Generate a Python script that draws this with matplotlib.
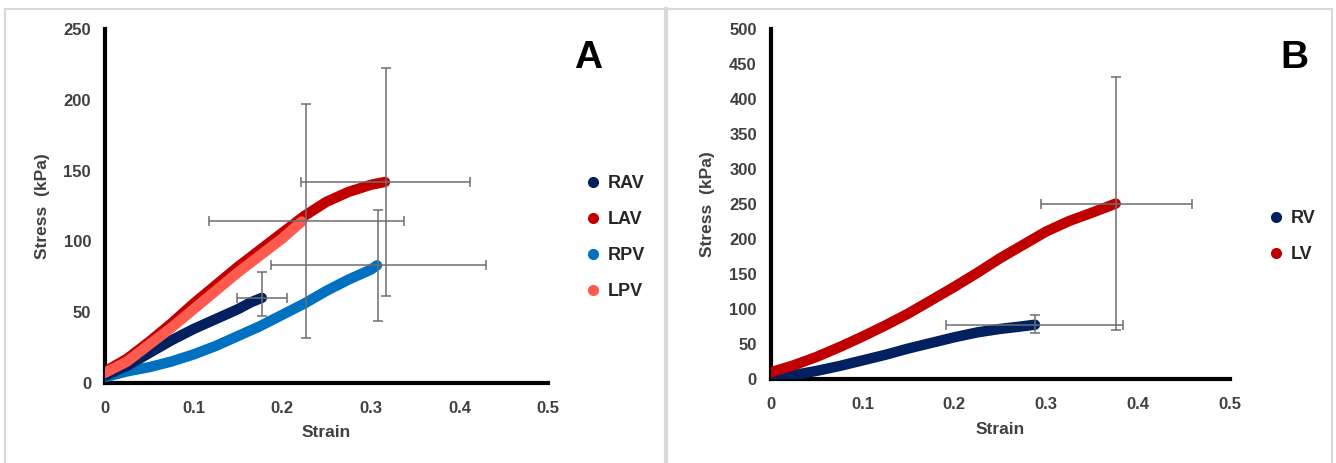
import matplotlib
matplotlib.use("Agg")
import matplotlib.pyplot as plt
from matplotlib.lines import Line2D
from matplotlib.ticker import FuncFormatter

plt.rcParams['font.family'] = ['Liberation Sans', 'DejaVu Sans']
plt.rcParams['font.weight'] = 'bold'

W, H = 1336, 463

# panel A : atria / pulmonary veins
rav_strain = [0, 0.025, 0.05, 0.075, 0.1, 0.125, 0.15, 0.165, 0.177]
rav_stress = [5, 12, 21, 30, 38, 45, 52, 57, 60]
lav_strain = [0, 0.025, 0.05, 0.075, 0.1, 0.125, 0.15, 0.175, 0.2, 0.225, 0.25, 0.275, 0.3, 0.316]
lav_stress = [8, 17, 29, 42, 56, 69, 82, 94, 106, 118, 128, 135, 140, 142]
rpv_strain = [0, 0.025, 0.05, 0.075, 0.1, 0.125, 0.15, 0.175, 0.2, 0.225, 0.25, 0.275, 0.3, 0.307]
rpv_stress = [4, 8, 11, 15, 20, 26, 33, 40, 48, 56, 65, 73, 80, 83]
lpv_strain = [0, 0.025, 0.05, 0.075, 0.1, 0.125, 0.15, 0.175, 0.2, 0.222]
lpv_stress = [7, 15, 27, 39, 52, 65, 78, 90, 102, 114]

# mean point and error (strain err, stress err low, stress err high)
rav_err = (0.177, 60, 0.028, 13, 18)
lav_err = (0.3167, 142, 0.095, 80.5, 80.5)
rpv_err = (0.3085, 83, 0.121, 39, 39)
lpv_err = (0.227, 114.3, 0.11, 83, 83)

# panel B : ventricles
rv_strain = [0, 0.025, 0.05, 0.075, 0.1, 0.125, 0.15, 0.175, 0.2, 0.225, 0.25, 0.27, 0.288]
rv_stress = [3, 6, 12, 19, 27, 35, 44, 52, 60, 67, 72, 75, 78]
lv_strain = [0, 0.025, 0.05, 0.075, 0.1, 0.125, 0.15, 0.175, 0.2, 0.225, 0.25, 0.275, 0.3, 0.325, 0.35, 0.376]
lv_stress = [10, 20, 32, 46, 61, 77, 94, 113, 132, 152, 173, 192, 211, 226, 238, 251]

rv_err = (0.2875, 78, 0.096, 12.3, 14.4)
lv_err = (0.3766, 251, 0.082, 181, 181)

NAVY = '#002060'
RED = '#C00000'
BLUE = '#0070C0'
SALMON = '#FF5A4E'
TXT = '#404040'
ERR = '#6E6E6E'


def fmt(v, pos):
    return '0' if abs(v) < 1e-9 else ('%g' % v)


def setup(ax, ymax, ystep):
    ax.set_xlim(0, 0.5)
    ax.set_ylim(0, ymax)
    ax.set_xticks([0, 0.1, 0.2, 0.3, 0.4, 0.5])
    ax.set_yticks(range(0, ymax + 1, ystep))
    ax.xaxis.set_major_formatter(FuncFormatter(fmt))
    for s in ['top', 'right']:
        ax.spines[s].set_visible(False)
    for s in ['left', 'bottom']:
        ax.spines[s].set_linewidth(3)
        ax.spines[s].set_color('black')
    ax.tick_params(length=0, labelsize=12, labelcolor=TXT)
    ax.tick_params(axis='x', pad=13)
    ax.tick_params(axis='y', pad=10)
    for lab in ax.get_xticklabels() + ax.get_yticklabels():
        lab.set_fontweight('bold')
    ax.set_xlabel('Strain', fontsize=12.5, fontweight='bold', color=TXT, labelpad=7)
    ax.set_ylabel('Stress  (kPa)', fontsize=12.5, fontweight='bold', color=TXT, labelpad=10)


def curve(ax, x, y, c):
    ax.plot(x, y, '-', color=c, lw=7.5, solid_capstyle='round',
            solid_joinstyle='round', zorder=3)


def err(ax, e):
    x, y, xe, ylo, yhi = e
    ax.errorbar([x], [y], xerr=[[xe], [xe]], yerr=[[ylo], [yhi]], fmt='none',
                ecolor=ERR, elinewidth=1.1, capsize=3.5, capthick=1.1, zorder=4)


fig = plt.figure(figsize=(W / 100, H / 100), dpi=100)

axA = fig.add_axes([105 / W, 1 - 382.7 / H, (548 - 105) / W, (382.7 - 29.3) / H])
axB = fig.add_axes([770.7 / W, 1 - 379.3 / H, (1229.5 - 770.7) / W, (379.3 - 29.3) / H])
setup(axA, 250, 50)
setup(axB, 500, 50)

curve(axA, rpv_strain, rpv_stress, BLUE)
curve(axA, rav_strain, rav_stress, NAVY)
curve(axA, lav_strain, lav_stress, RED)
curve(axA, lpv_strain, lpv_stress, SALMON)
for e in [rav_err, lav_err, rpv_err, lpv_err]:
    err(axA, e)

curve(axB, rv_strain, rv_stress, NAVY)
curve(axB, lv_strain, lv_stress, RED)
for e in [rv_err, lv_err]:
    err(axB, e)


def legend(names, colors, x, y):
    handles = [Line2D([], [], ls='none', marker='o', ms=7, color=c) for c in colors]
    leg = fig.legend(handles, names, loc='upper left', bbox_to_anchor=(x / W, 1 - y / H),
                     frameon=False, handlelength=0.6, handletextpad=0.5,
                     labelspacing=1.05, borderpad=0, borderaxespad=0,
                     prop={'size': 13, 'weight': 'bold'})
    for t in leg.get_texts():
        t.set_color('#262626')


legend(['RAV', 'LAV', 'RPV', 'LPV'], [NAVY, RED, BLUE, SALMON], 588, 175)
legend(['RV', 'LV'], [NAVY, RED], 1271, 210)

fig.text(588 / W, 1 - 58 / H, 'A', fontsize=28, fontweight='bold', ha='center', va='center')
fig.text(1294 / W, 1 - 58 / H, 'B', fontsize=28, fontweight='bold', ha='center', va='center')

# grey frame around both panels
fc = '#D9D9D9'
fig.add_artist(Line2D([5 / W, 1332 / W], [1 - 9 / H, 1 - 9 / H], color=fc, lw=1.5))
fig.add_artist(Line2D([5 / W, 5 / W], [0, 1 - 9 / H], color=fc, lw=1.5))
fig.add_artist(Line2D([1332 / W, 1332 / W], [0, 1 - 9 / H], color=fc, lw=1.5))
fig.add_artist(Line2D([666 / W, 666 / W], [0, 1 - 9 / H], color=fc, lw=3))

fig.savefig('out.png', dpi=100)
